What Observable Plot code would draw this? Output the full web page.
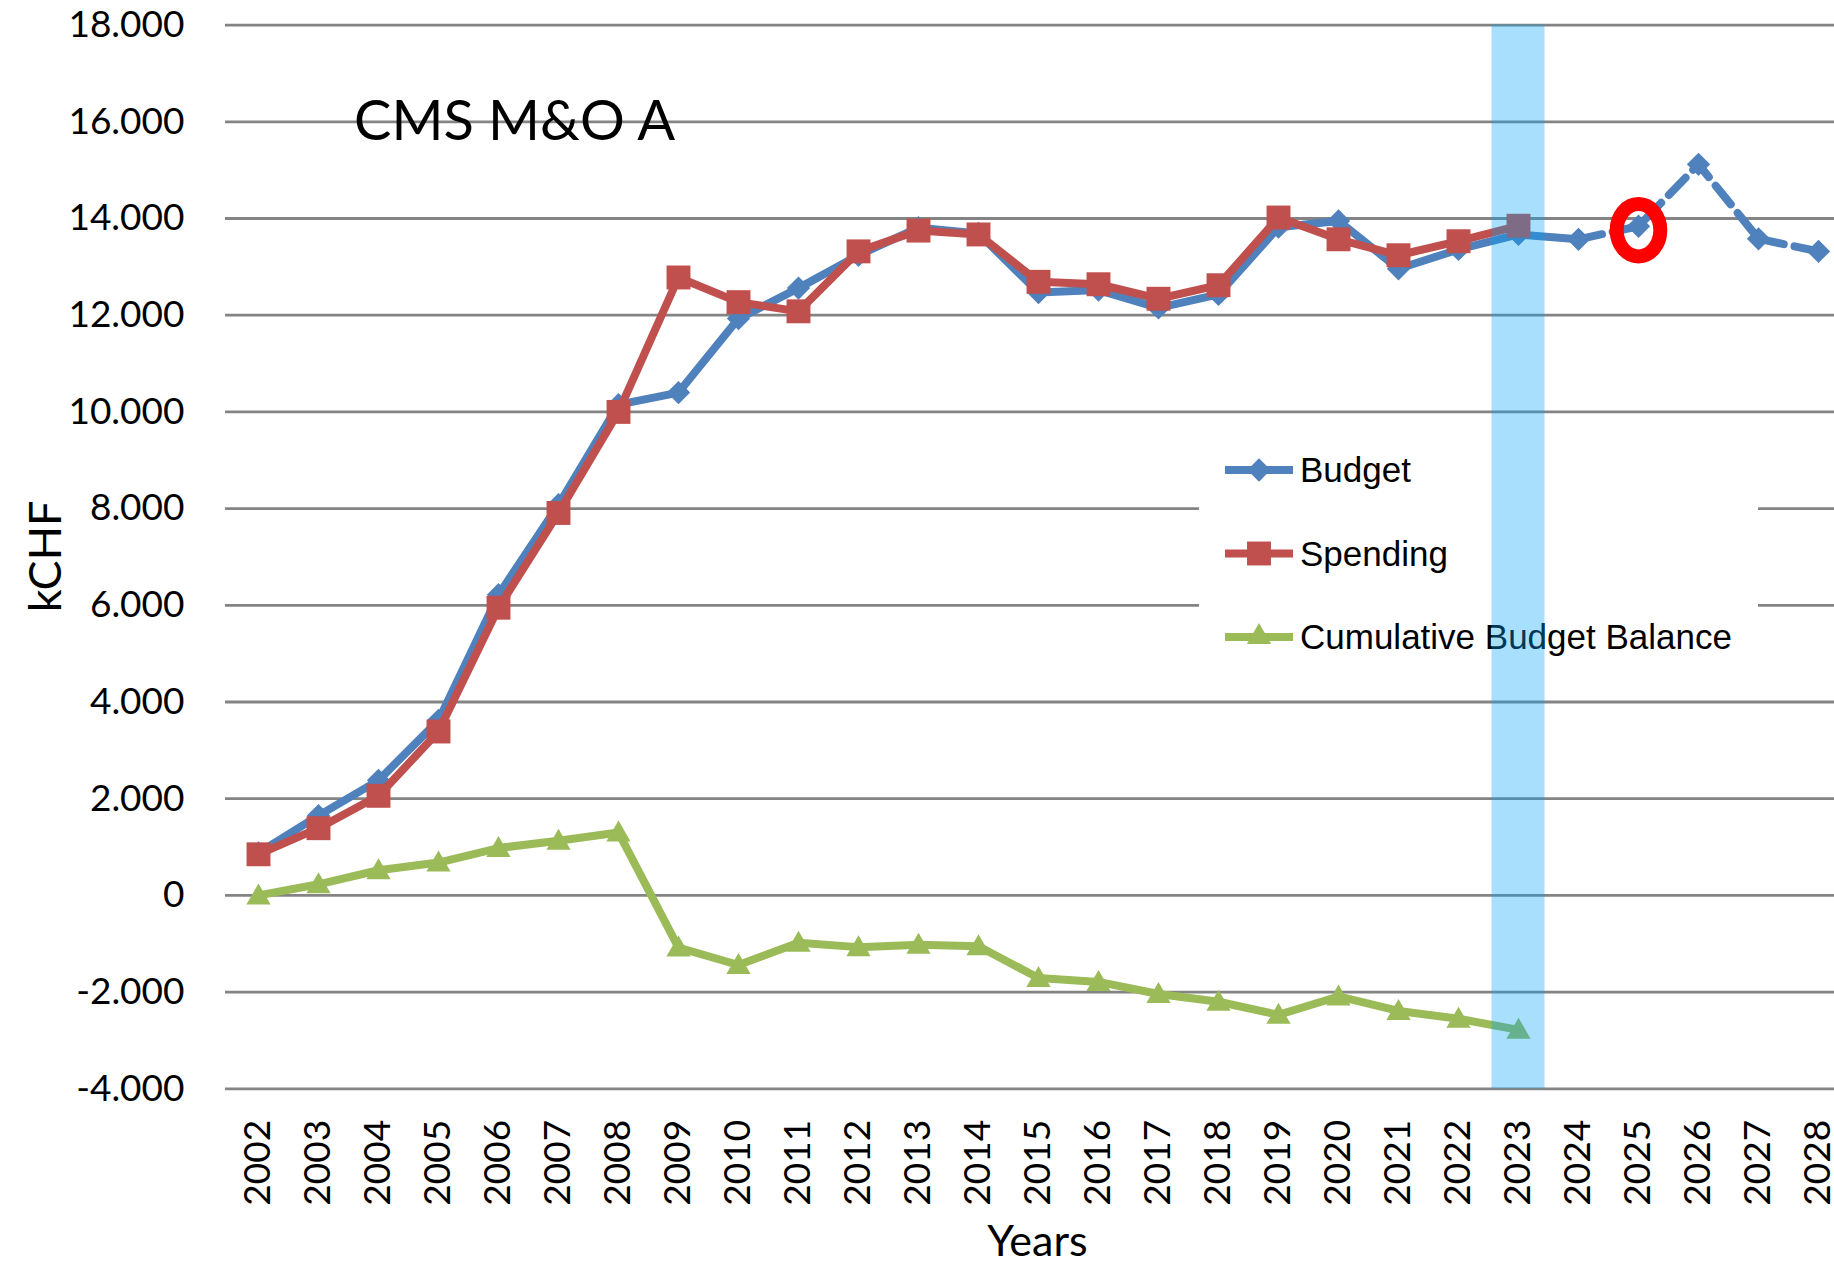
<!DOCTYPE html>
<html>
<head>
<meta charset="utf-8">
<script src="https://cdn.jsdelivr.net/npm/d3@7"></script>
<script src="https://cdn.jsdelivr.net/npm/@observablehq/plot@0.6"></script>
<style>
  html, body { margin: 0; padding: 0; background: #fff; overflow: hidden; width: 1834px; height: 1264px; }
  #chart svg { display: block; }
</style>
</head>
<body>
<div id="chart"></div>
<script>
// ---------- data ----------
const years = [2002, 2003, 2004, 2005, 2006, 2007, 2008, 2009, 2010, 2011, 2012, 2013, 2014,
  2015, 2016, 2017, 2018, 2019, 2020, 2021, 2022, 2023, 2024, 2025, 2026, 2027, 2028];
const budget = [880, 1650, 2380, 3620, 6220, 8080, 10150, 10400, 11930, 12560, 13240, 13810, 13690,
  12470, 12520, 12150, 12430, 13820, 13950, 12960, 13360, 13670, 13570, 13840, 15120, 13580, 13320];
const spending = [850, 1390, 2060, 3390, 5950, 7910, 10000, 12780, 12270, 12080, 13320, 13750, 13670,
  12690, 12640, 12340, 12620, 14020, 13570, 13240, 13530, 13850];
const balance = [0, 230, 520, 680, 980, 1130, 1300, -1080, -1440, -980, -1070, -1020, -1050,
  -1710, -1790, -2040, -2200, -2470, -2090, -2390, -2550, -2780];
const seriesNames = ["Budget", "Spending", "Cumulative Budget Balance"];
const yTicks = [-4000, -2000, 0, 2000, 4000, 6000, 8000, 10000, 12000, 14000, 16000, 18000];
const yTickLabels = ["-4.000", "-2.000", "0", "2.000", "4.000", "6.000", "8.000", "10.000", "12.000", "14.000", "16.000", "18.000"];
const yDomain = [-4000, 18000];
const titleText = "CMS M&O A";
const yLabel = "kCHF";
const xLabel = "Years";
const highlightYear = 2023;   // shaded column
const forecastFrom = 2024;    // budget drawn dashed from here on
const circledYear = 2025;     // red ring around the budget point

// ---------- table ----------
const rows = years.map((year, i) => ({
  year,
  budget: budget[i],
  spending: i < spending.length ? spending[i] : null,
  balance: i < balance.length ? balance[i] : null
}));
const spendRows = rows.filter(d => d.spending != null);
const balRows = rows.filter(d => d.balance != null);
const tickLabelOf = new Map(yTicks.map((t, i) => [t, yTickLabels[i]]));

// ---------- styling / layout ----------
const W = 1834, H = 1264;
const M = {top: 24.6, right: 0, bottom: 175.7, left: 225};
const step = 60.25;
const xRange = [M.left, M.left + years.length * step];
const colors = {budget: "#4F81BD", spending: "#C0504D", balance: "#9BBB59", grid: "#848484", band: "rgb(0,160,245)", ring: "#FF0000"};
const lineW = 8;
const symR = {budget: 10.5, spending: 13.5, balance: 9};
const symbols = [d3.symbolDiamond2, d3.symbolSquare, d3.symbolTriangle];
const symColors = [colors.budget, colors.spending, colors.balance];
const symRadii = [symR.budget, symR.spending, symR.balance];

const ellipseSymbol = {
  draw(ctx, size) {
    const r = Math.sqrt(size / Math.PI);
    const rx = r, ry = r * 1.2, k = 0.5523;
    ctx.moveTo(rx, 0);
    ctx.bezierCurveTo(rx, ry * k, rx * k, ry, 0, ry);
    ctx.bezierCurveTo(-rx * k, ry, -rx, ry * k, -rx, 0);
    ctx.bezierCurveTo(-rx, -ry * k, -rx * k, -ry, 0, -ry);
    ctx.bezierCurveTo(rx * k, -ry, rx, -ry * k, rx, 0);
    ctx.closePath();
  }
};

// legend (inside plot area, white box hides grid lines)
const legendLayout = {left: 1199, top: 432, width: 559, height: 243, lineX1: 1225, lineX2: 1293, symX: 1259, textX: 1300, rowY: [470, 553.5, 637], fontSize: 35};
function legendMark() {
  const L = legendLayout;
  const g = d3.create("svg:g");
  g.append("rect").attr("x", L.left).attr("y", L.top).attr("width", L.width).attr("height", L.height).attr("fill", "#fff");
  seriesNames.forEach((name, i) => {
    const y = L.rowY[i];
    g.append("line").attr("x1", L.lineX1).attr("x2", L.lineX2).attr("y1", y).attr("y2", y)
      .attr("stroke", symColors[i]).attr("stroke-width", 8);
    g.append("path").attr("transform", `translate(${L.symX},${y})`)
      .attr("d", d3.symbol(symbols[i], Math.PI * symRadii[i] * symRadii[i])())
      .attr("fill", symColors[i]);
    g.append("text").attr("x", L.textX).attr("y", y).attr("dy", "0.35em")
      .attr("text-anchor", "start")
      .attr("font-family", "'Liberation Sans', Arial, sans-serif").attr("font-size", L.fontSize)
      .attr("fill", "#000").text(name);
  });
  return g.node();
}

function labelsMark(index, scales, values, dims) {
  const g = d3.create("svg:g").attr("font-family", "Lato, sans-serif").attr("fill", "#000");
  g.append("text").attr("x", dims.marginLeft + 129).attr("y", dims.marginTop + 115.4)
    .attr("text-anchor", "start").attr("font-size", 56).text(titleText);
  const cy = (dims.marginTop + dims.height - dims.marginBottom) / 2;
  g.append("text").attr("transform", `translate(61,${cy}) rotate(-90)`)
    .attr("text-anchor", "middle").attr("font-size", 45).text(yLabel);
  g.append("text").attr("x", (xRange[0] + xRange[1]) / 2 - 1).attr("y", dims.height - 8)
    .attr("text-anchor", "middle").attr("font-size", 43).text(xLabel);
  return g.node();
}

const chart = Plot.plot({
  width: W,
  height: H,
  marginTop: M.top,
  marginRight: M.right,
  marginBottom: M.bottom,
  marginLeft: M.left,
  style: {fontFamily: "Lato, sans-serif", fontSize: "37px", color: "#000", background: "#fff", overflow: "hidden"},
  x: {type: "band", domain: years, range: xRange, padding: 0, axis: null},
  y: {domain: yDomain, axis: null},
  marks: [
    Plot.ruleY(yTicks, {stroke: colors.grid, strokeWidth: 2.8}),
    legendMark,
    // Budget
    Plot.line(rows.filter(d => d.year <= forecastFrom), {x: "year", y: "budget", stroke: colors.budget, strokeWidth: lineW, strokeLinejoin: "round"}),
    Plot.line(rows.filter(d => d.year >= forecastFrom), {x: "year", y: "budget", stroke: colors.budget, strokeWidth: lineW, strokeDasharray: "24,11"}),
    Plot.dot(rows, {x: "year", y: "budget", symbol: "diamond2", r: symR.budget, fill: colors.budget, stroke: null}),
    // Spending
    Plot.line(spendRows, {x: "year", y: "spending", stroke: colors.spending, strokeWidth: lineW, strokeLinejoin: "round"}),
    Plot.dot(spendRows, {x: "year", y: "spending", symbol: "square", r: symR.spending, fill: colors.spending, stroke: null}),
    // Cumulative balance
    Plot.line(balRows, {x: "year", y: "balance", stroke: colors.balance, strokeWidth: lineW, strokeLinejoin: "round"}),
    Plot.dot(balRows, {x: "year", y: "balance", symbol: "triangle", r: symR.balance, fill: colors.balance, stroke: null, dy: 2}),
    // highlighted year column
    Plot.barY([highlightYear], {x: d => d, y1: () => yDomain[0], y2: () => yDomain[1], fill: colors.band, fillOpacity: 0.34, insetLeft: 3.5, insetRight: 3.5}),
    // red ring
    Plot.dot(rows.filter(d => d.year === circledYear), {x: "year", y: "budget", symbol: ellipseSymbol, r: 21.8, fill: "none", stroke: colors.ring, strokeWidth: 14, dy: 4}),
    // axes
    Plot.axisY(yTicks, {tickSize: 0, tickPadding: 41, tickFormat: d => tickLabelOf.get(d), fontSize: 37, label: null}),
    Plot.axisX(years, {tickRotate: -90, tickSize: 0, tickPadding: 31, tickFormat: d => `${d}`, fontSize: 37, label: null}),
    labelsMark
  ]
});
document.getElementById("chart").appendChild(chart);
</script>
</body>
</html>
